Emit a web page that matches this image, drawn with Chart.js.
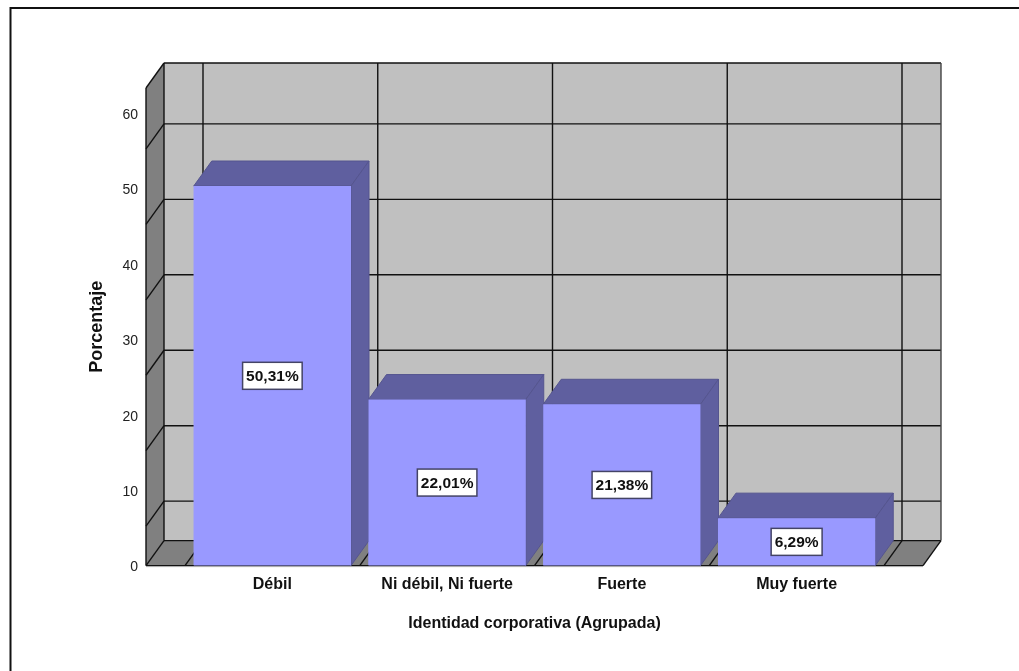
<!DOCTYPE html>
<html>
<head>
<meta charset="utf-8">
<style>
  html, body { margin: 0; padding: 0; background: #fff; }
  #box { position: absolute; left: 0; top: 0; width: 1019px; height: 671px; }
</style>
<script src="https://cdn.jsdelivr.net/npm/chart.js@4/dist/chart.umd.min.js"></script>
</head>
<body>
<div id="box"><canvas id="chart" width="1019" height="671"></canvas></div>
<script>
const categories = ['Débil', 'Ni débil, Ni fuerte', 'Fuerte', 'Muy fuerte'];
const percentages = [50.31, 22.01, 21.38, 6.29];
const valueLabels = ['50,31%', '22,01%', '21,38%', '6,29%'];
const axisMax = 63.3;

const FONT = '"Liberation Sans", Arial, sans-serif';
// 3D look: how far the back wall sits from the front plane
const DEPTH_X = 18;
const DEPTH_Y = -25;
// the walls stick out past the first and last category
const WALL_PAD = 39;
// in the original the grid lines sit lower than the tick labels
const GRID_SHIFT = 36;

function poly(ctx, pts, fill, stroke, lw) {
    ctx.beginPath();
    pts.forEach((p, i) => i ? ctx.lineTo(p[0], p[1]) : ctx.moveTo(p[0], p[1]));
    ctx.closePath();
    if (fill) { ctx.fillStyle = fill; ctx.fill(); }
    if (stroke) { ctx.strokeStyle = stroke; ctx.lineWidth = lw || 1; ctx.stroke(); }
}

function line(ctx, x1, y1, x2, y2, color, lw) {
    ctx.beginPath();
    ctx.moveTo(x1, y1);
    ctx.lineTo(x2, y2);
    ctx.strokeStyle = color || '#111';
    ctx.lineWidth = lw || 1.4;
    ctx.stroke();
}

// --- walls and floor, behind the bars ---
const wallsPlugin = {
    id: 'walls',
    beforeDatasetsDraw(chart) {
        const ctx = chart.ctx;
        const { x, y } = chart.scales;
        const band = x.getPixelForValue(1) - x.getPixelForValue(0);
        const left = x.getPixelForValue(0) - band / 2 - WALL_PAD;
        const right = x.getPixelForValue(categories.length - 1) + band / 2 + WALL_PAD;
        const y0 = y.getPixelForValue(0);
        const top = y.getPixelForValue(axisMax);
        const dx = DEPTH_X, dy = DEPTH_Y;

        ctx.save();
        // back wall
        poly(ctx, [[left + dx, top + dy], [right + dx, top + dy], [right + dx, y0 + dy], [left + dx, y0 + dy]], '#c0c0c0');
        // left wall
        poly(ctx, [[left, top], [left + dx, top + dy], [left + dx, y0 + dy], [left, y0]], '#808080');
        // floor
        poly(ctx, [[left, y0], [left + dx, y0 + dy], [right + dx, y0 + dy], [right, y0]], '#808080');

        // horizontal grid lines on both walls
        y.ticks.forEach(t => {
            if (t.value === 0) return;
            const py = y.getPixelForValue(t.value) + GRID_SHIFT;
            line(ctx, left, py, left + dx, py + dy);
            line(ctx, left + dx, py + dy, right + dx, py + dy);
        });
        line(ctx, left + dx, y0 + dy, right + dx, y0 + dy);
        // vertical grid lines on back wall and floor
        for (let i = 0; i <= categories.length; i++) {
            const px = x.getPixelForValue(0) - band / 2 + i * band;
            line(ctx, px + dx, top + dy, px + dx, y0 + dy);
            line(ctx, px, y0, px + dx, y0 + dy);
        }
        // frame
        line(ctx, left + dx, top + dy, right + dx, top + dy);
        line(ctx, right + dx, top + dy, right + dx, y0 + dy, '#444');
        line(ctx, left + dx, top + dy, left + dx, y0 + dy);
        line(ctx, left, top, left + dx, top + dy);
        line(ctx, left, top, left, y0);
        line(ctx, left, y0, left + dx, y0 + dy);
        line(ctx, right, y0, right + dx, y0 + dy);
        ctx.restore();
    },
    afterDatasetsDraw(chart) {
        const ctx = chart.ctx;
        const { x, y } = chart.scales;
        const band = x.getPixelForValue(1) - x.getPixelForValue(0);
        const y0 = y.getPixelForValue(0);
        const left = x.getPixelForValue(0) - band / 2 - WALL_PAD;
        const right = x.getPixelForValue(categories.length - 1) + band / 2 + WALL_PAD;
        ctx.save();
        line(ctx, left, y0, right, y0);
        line(ctx, left, y0 + 1, right, y0 + 1, '#aaa', 1);
        ctx.restore();
    }
};

// --- sides and tops of the bars, value boxes on top ---
const barsPlugin = {
    id: 'bars3d',
    afterDatasetsDraw(chart) {
        const ctx = chart.ctx;
        const meta = chart.getDatasetMeta(0);
        const dx = DEPTH_X, dy = DEPTH_Y;
        ctx.save();
        meta.data.forEach(bar => {
            const l = bar.x - bar.width / 2, r = bar.x + bar.width / 2;
            const t = bar.y, b = bar.base;
            poly(ctx, [[l, t], [l + dx, t + dy], [r + dx, t + dy], [r, t]], '#5f5f9f', '#55558f', 1);
            poly(ctx, [[r, t], [r + dx, t + dy], [r + dx, b + dy], [r, b]], '#5f5f9f', '#55558f', 1);
        });
        // redraw the front faces where a neighbour's side overlaps
        meta.data.forEach(bar => {
            const l = bar.x - bar.width / 2, r = bar.x + bar.width / 2;
            poly(ctx, [[l, bar.y], [r, bar.y], [r, bar.base], [l, bar.base]], '#9999ff');
        });

        ctx.font = 'bold 15.5px ' + FONT;
        ctx.textAlign = 'center';
        ctx.textBaseline = 'middle';
        meta.data.forEach((bar, i) => {
            const cy = (bar.y + bar.base) / 2;
            const w = ctx.measureText(valueLabels[i]).width + 7;
            const h = 27;
            ctx.fillStyle = '#ffffff';
            ctx.fillRect(bar.x - w / 2, cy - h / 2, w, h);
            ctx.strokeStyle = '#444466';
            ctx.lineWidth = 1.5;
            ctx.strokeRect(bar.x - w / 2, cy - h / 2, w, h);
            ctx.fillStyle = '#111';
            ctx.fillText(valueLabels[i], bar.x, cy + 1);
        });
        ctx.restore();
    }
};

// outer frame: only top and left are inside the picture
const framePlugin = {
    id: 'frame',
    beforeDraw(chart) {
        const ctx = chart.ctx;
        ctx.save();
        ctx.fillStyle = '#fff';
        ctx.fillRect(0, 0, chart.width, chart.height);
        ctx.strokeStyle = '#111';
        ctx.lineWidth = 2;
        ctx.beginPath();
        ctx.moveTo(10.5, 671);
        ctx.lineTo(10.5, 8);
        ctx.lineTo(1019, 8);
        ctx.stroke();
        ctx.restore();
    }
};

new Chart(document.getElementById('chart'), {
    type: 'bar',
    data: {
        labels: categories,
        datasets: [{
            label: 'Porcentaje',
            data: percentages,
            backgroundColor: '#9999ff',
            barPercentage: 0.9,
            categoryPercentage: 1
        }]
    },
    options: {
        responsive: false,
        animation: false,
        layout: { padding: { top: 88, right: 135, bottom: 38, left: 86 } },
        plugins: { legend: { display: false }, tooltip: { enabled: false } },
        scales: {
            x: {
                grid: { display: false, drawTicks: false },
                border: { display: false },
                ticks: { color: '#111', font: { family: FONT, size: 16, weight: 'bold' }, padding: 9.5, maxRotation: 0 },
                title: {
                    display: true,
                    text: 'Identidad corporativa (Agrupada)',
                    color: '#111',
                    font: { family: FONT, size: 16, weight: 'bold' },
                    padding: { top: 10, bottom: 0 }
                }
            },
            y: {
                min: 0,
                max: axisMax,
                // Chart.js counts tick padding twice when it sizes the axis
                afterFit(scale) { scale.width = 99; },
                grid: { display: false, drawTicks: false },
                border: { display: false },
                ticks: {
                    stepSize: 10,
                    includeBounds: false,
                    color: '#222',
                    font: { family: FONT, size: 14 },
                    padding: 47,
                    labelOffset: 2
                },
                title: {
                    display: true,
                    text: 'Porcentaje',
                    color: '#111',
                    font: { family: FONT, size: 18, weight: 'bold' },
                    padding: { top: 0, bottom: 12 }
                }
            }
        }
    },
    plugins: [framePlugin, wallsPlugin, barsPlugin]
});
</script>
</body>
</html>
